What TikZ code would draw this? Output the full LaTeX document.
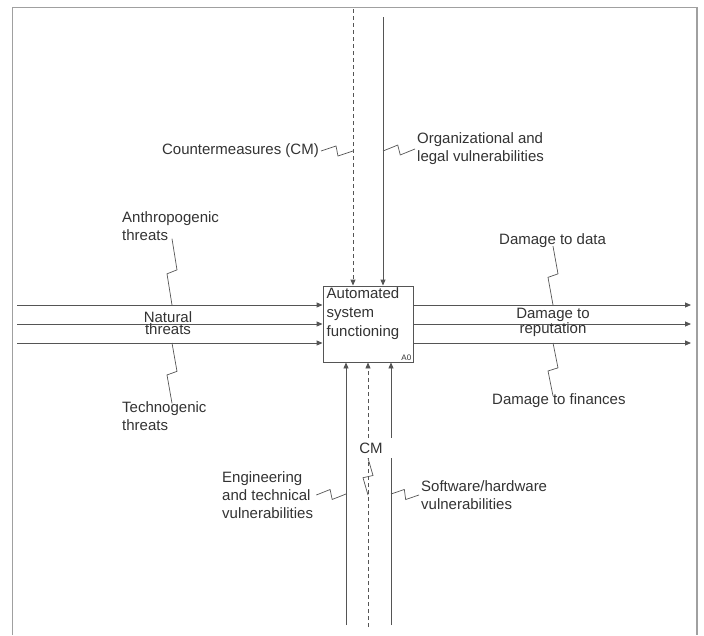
\documentclass[tikz,border=0pt]{standalone}
\usepackage{fontspec}
\setmainfont{Liberation Sans}
\usetikzlibrary{arrows.meta,calc}
\definecolor{ln}{HTML}{555555}
\definecolor{tx}{HTML}{333333}
\definecolor{fr}{HTML}{A0A0A0}
\tikzset{
 flow/.style={draw=ln, line width=0.9pt, -{Triangle[length=6pt,width=5pt]}},
 cmflow/.style={flow, dash pattern=on 4pt off 3pt},
 lbl/.style={text=tx, font=\fontsize{15}{18}\selectfont, align=left, inner sep=0pt},
 tightlbl/.style={lbl, align=center, font=\fontsize{15}{12}\selectfont},
 squig/.style={draw=ln, line width=0.7pt, to path={-- ($(\tikztostart)!0.47!(\tikztotarget)!5pt!90:(\tikztotarget)$) -- ($(\tikztostart)!0.53!(\tikztotarget)!5pt!-90:(\tikztotarget)$) -- (\tikztotarget)}},
}
\begin{document}
\begin{tikzpicture}[x=1pt,y=-1pt]
\useasboundingbox (0,0) rectangle (704,635);
\fill[white] (0,0) rectangle (704,635);
\draw[fr, line width=1.5pt] (12.5,635) -- (12.5,7.5) -- (697,7.5) -- (697,635);

% box
\node[draw=ln, line width=0.9pt, fill=white, minimum width=90pt, minimum height=76pt, inner sep=0pt] (box) at (368,324) {};
\node[lbl, anchor=north west, font=\fontsize{15}{19}\selectfont] (boxtxt) at (326.5,287) {Automated\\system\\functioning};
\node[text=tx, font=\fontsize{8}{8}\selectfont, anchor=south east, inner sep=2pt] (a0) at (box.south east) {A0};

% line ends
\coordinate (L1) at (17,305);
\coordinate (L2) at (17,324);
\coordinate (L3) at (17,343);
\coordinate (R1) at (691,305);
\coordinate (R2) at (691,324);
\coordinate (R3) at (691,343);
\coordinate (T1) at (353,9);
\coordinate (T2) at (383,17);
\coordinate (B1) at (346,625);
\coordinate (B2) at (368,627);
\coordinate (B3) at (391,625);

\draw[flow] (L1) -- (L1 -| box.west);
\draw[flow] (L2) -- (L2 -| box.west);
\draw[flow] (L3) -- (L3 -| box.west);
\draw[flow] (R1 -| box.east) -- (R1);
\draw[flow] (R2 -| box.east) -- (R2);
\draw[flow] (R3 -| box.east) -- (R3);
\draw[cmflow] (T1) -- (T1 |- box.north);
\draw[flow] (T2) -- (T2 |- box.north);
\draw[flow] (B1) -- (B1 |- box.south);
\draw[cmflow] (B2) -- (B2 |- box.south);
\draw[flow] (B3) -- (B3 |- box.south);

% squiggle points on lines
\coordinate (sA) at (172,305);
\coordinate (sT) at (172,343);
\coordinate (sD) at (553,305);
\coordinate (sF) at (553,343);
\coordinate (sC) at (353,151);
\coordinate (sO) at (383,151);
\coordinate (sE) at (346,494);
\coordinate (sS) at (391,494);
\coordinate (sM) at (368,495);

% labels
\node[lbl, anchor=west] (anthro) at (122,226) {Anthropogenic\\threats};
\node[tightlbl] (natural) at (168,323) {Natural\\threats};
\node[lbl, anchor=west] (techno) at (122,416) {Technogenic\\threats};
\node[lbl, anchor=east] (cmtop) at (319,151) {Countermeasures (CM)};
\node[lbl, anchor=west] (org) at (417,149) {Organizational and\\legal vulnerabilities};
\node[lbl, anchor=west] (data) at (499,241) {Damage to data};
\node[tightlbl] (rep) at (553,322) {Damage to\\reputation};
\node[lbl, anchor=west] (fin) at (492,401) {Damage to finances};
\node[lbl, fill=white, minimum width=44pt, minimum height=20pt] (cmbot) at (371,448) {CM};
\node[lbl, anchor=west] (eng) at (222,495) {Engineering\\and technical\\vulnerabilities};
\node[lbl, anchor=west] (soft) at (421,495) {Software/hardware\\vulnerabilities};

% squiggles
\draw[squig] ([yshift=2pt]anthro.south -| sA) to (sA);
\draw[squig] (sT) to ([yshift=-2pt]techno.north -| sT);
\draw[squig] ([xshift=2pt]cmtop.east) to (sC);
\draw[squig] (sO) to ([xshift=-2pt]org.west);
\draw[squig] ([yshift=2pt]data.south -| sD) to (sD);
\draw[squig] (sF) to ([yshift=-2pt]fin.north -| sF);
\draw[squig] ([xshift=3pt]eng.east) to (sE);
\draw[squig] (sS) to ([xshift=-2pt]soft.west);
\draw[squig] (cmbot.south -| sM) to (sM);
\end{tikzpicture}
\end{document}
